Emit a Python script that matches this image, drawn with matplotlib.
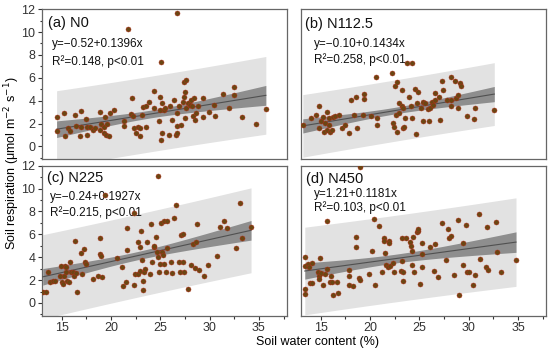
import numpy as np
import matplotlib
matplotlib.use("Agg")
import matplotlib.pyplot as plt
from matplotlib.ticker import MultipleLocator

plt.rcParams['font.family'] = ['Liberation Sans', 'DejaVu Sans']

# panel labels and fitted equations
panels = ["(a) N0", "(b) N112.5", "(c) N225", "(d) N450"]
intercepts = [-0.52, -0.10, -0.24, 1.21]
slopes = [0.1396, 0.1434, 0.1927, 0.1181]
r2_text = ["R\u00b2=0.148, p<0.01", "R\u00b2=0.258, p<0.01",
           "R\u00b2=0.215, p<0.01", "R\u00b2=0.103, p<0.01"]

# (a) N0
swc_a = [14.5, 14.56, 15.3, 15.4, 15.7, 15.9, 16.4, 16.5, 16.9, 17.0, 17.0, 17.5, 17.6, 17.6,
         17.9, 18.2, 18.4, 18.9, 18.9, 19.0, 19.3, 19.3, 19.4, 19.5, 19.6, 19.8, 19.9, 20.3,
         21.3, 21.3, 21.7, 22.0, 22.1, 22.2, 22.3, 22.5, 22.7, 22.9, 23.2, 23.0, 23.3, 23.6,
         23.6, 23.9, 24.4, 24.4, 24.9, 25.0, 25.0, 25.1, 25.1, 25.2, 25.2, 25.4, 25.5, 26.7,
         25.9, 26.0, 26.2, 26.4, 26.6, 26.7, 26.7, 26.7, 26.9, 27.1, 27.3, 27.4, 27.4, 27.5,
         27.6, 27.5, 27.6, 27.8, 28.0, 28.1, 28.2, 28.3, 28.4, 28.5, 28.6, 28.8, 29.3, 29.3,
         29.9, 30.4, 30.5, 31.4, 32.0, 32.5, 32.5, 33.3, 34.7, 35.7]
rs_a = [1.37, 2.6, 2.9, 0.87, 1.6, 1.37, 2.76, 1.8, 0.87, 3.1, 1.74, 2.4, 1.74, 0.96,
        1.74, 1.45, 1.6, 2.97, 1.45, 2.0, 1.74, 1.16, 2.6, 1.0, 2.0, 0.93, 2.9, 3.2,
        2.24, 1.8, 10.3, 2.8, 4.2, 2.67, 1.6, 1.16, 1.74, 1.6, 2.76, 0.87, 3.43, 1.66,
        3.5, 3.87, 4.85, 3.4, 2.2, 3.2, 4.36, 7.4, 0.58, 1.16, 3.78, 3.2, 3.34, 11.7,
        1.0, 3.5, 2.3, 4.07, 1.0, 1.16, 1.8, 2.9, 3.5, 1.9, 3.9, 5.67, 4.36, 4.8,
        5.8, 2.47, 3.34, 3.78, 3.63, 4.07, 3.5, 2.67, 4.27, 2.3, 2.9, 3.55, 4.27, 2.6,
        2.97, 3.63, 2.7, 4.56, 3.34, 4.5, 5.23, 2.6, 2.0, 3.3]

# (b) N112.5
swc_b = [13.2, 14.0, 14.5, 14.8, 14.8, 15.0, 15.2, 15.3, 15.4, 15.6, 15.7, 15.9, 15.9, 16.0,
         16.2, 16.3, 16.5, 16.9, 17.2, 17.5, 17.9, 18.1, 18.4, 18.6, 18.7, 19.4, 19.4, 19.3,
         20.1, 20.6, 20.7, 20.7, 22.2, 22.3, 22.4, 22.5, 22.6, 22.7, 22.7, 22.9, 22.9, 23.2,
         23.2, 23.4, 23.4, 23.5, 23.6, 23.8, 24.0, 24.2, 24.3, 24.3, 24.6, 24.7, 24.8, 24.9,
         25.2, 25.4, 25.4, 25.6, 25.9, 26.0, 26.1, 26.3, 26.4, 26.6, 26.6, 27.0, 27.1, 27.3,
         27.4, 27.8, 28.2, 28.2, 28.2, 28.6, 28.7, 28.9, 28.9, 29.1, 29.2, 29.8, 30.5, 30.6,
         32.6]
rs_b = [1.83, 2.47, 2.76, 3.55, 1.6, 2.18, 2.6, 1.3, 2.03, 1.45, 3.05, 2.47, 1.9, 1.3,
        1.45, 2.6, 2.67, 2.76, 1.6, 1.9, 1.16, 4.07, 2.76, 4.36, 1.6, 4.16, 4.56, 2.76,
        2.67, 6.05, 2.47, 1.9, 6.45, 2.03, 1.74, 5.3, 2.76, 5.67, 1.22, 2.9, 3.78, 4.94,
        3.55, 3.34, 1.6, 1.74, 2.47, 7.33, 4.36, 3.55, 7.33, 2.47, 5.0, 1.08, 3.78, 4.8,
        3.34, 2.18, 3.84, 3.78, 3.26, 2.18, 3.34, 3.92, 3.63, 4.65, 4.07, 4.36, 2.27, 5.76,
        4.94, 4.07, 4.07, 6.1, 3.55, 5.76, 4.2, 4.5, 3.34, 5.58, 5.3, 2.67, 2.38, 3.34,
        3.2]

# (c) N225
swc_c = [13.1, 13.4, 13.6, 13.8, 14.1, 14.3, 14.8, 14.9, 15.0, 15.1, 15.3, 15.4, 15.5, 15.5,
         15.6, 15.8, 15.9, 16.0, 16.2, 16.3, 16.4, 16.5, 16.6, 17.0, 17.1, 17.3, 17.4, 17.5,
         18.2, 18.7, 18.9, 18.9, 19.0, 19.1, 19.4, 20.6, 21.1, 21.2, 21.5, 21.6, 21.6, 22.3,
         22.3, 22.4, 22.7, 22.7, 22.9, 23.0, 23.1, 23.2, 23.3, 23.3, 23.4, 23.5, 23.7, 24.1,
         24.2, 24.0, 24.4, 24.4, 24.6, 24.7, 24.8, 24.8, 24.9, 25.0, 25.1, 25.2, 25.3, 25.4,
         25.4, 25.7, 25.7, 25.6, 26.1, 26.2, 26.4, 26.6, 26.9, 27.0, 27.1, 27.3, 27.3, 27.4,
         27.8, 28.1, 28.3, 28.5, 28.6, 28.7, 28.9, 29.4, 29.8, 30.8, 31.1, 31.5, 31.8, 32.7,
         33.1, 33.3, 34.2]
rs_c = [0.93, 0.93, 2.68, 1.87, 1.95, 1.95, 2.39, 3.27, 1.81, 1.66, 2.39, 3.27, 3.12, 2.74,
        1.95, 1.81, 3.56, 2.68, 2.68, 2.39, 5.45, 2.62, 0.99, 4.37, 2.54, 4.72, 3.56, 3.41,
        2.1, 2.39, 5.66, 4.29, 4.14, 2.24, 9.45, 3.9, 3.12, 1.52, 1.81, 6.53, 4.66, 7.87,
        1.6, 2.54, 5.31, 2.54, 2.83, 4.87, 6.33, 3.76, 1.95, 1.17, 2.74, 2.97, 5.31, 6.91,
        3.56, 2.54, 4.87, 5.01, 5.74, 4.43, 3.99, 11.08, 2.74, 3.41, 7.0, 4.49, 4.2, 3.41,
        7.2, 7.2, 4.78, 2.74, 3.62, 2.62, 7.4, 8.57, 3.62, 2.74, 5.95, 6.04, 3.62, 2.74,
        1.22, 3.32, 5.16, 3.03, 5.36, 6.91, 2.92, 2.39, 3.32, 4.08, 6.62, 7.2, 6.56, 4.78,
        8.75, 5.66, 6.68]

# (d) N450
swc_d = [13.4, 13.4, 13.4, 13.4, 13.7, 13.8, 13.9, 14.1, 14.1, 14.7, 14.8, 14.8, 14.9, 15.0,
         15.2, 15.4, 15.6, 15.7, 16.0, 16.1, 16.2, 16.3, 16.7, 16.8, 17.9, 17.9, 17.9, 18.3,
         18.6, 18.6, 18.9, 19.0, 19.9, 20.2, 20.4, 20.5, 20.9, 21.2, 21.4, 21.4, 21.5, 21.6,
         21.8, 21.9, 21.9, 22.0, 22.3, 22.4, 23.1, 23.2, 23.2, 23.3, 23.4, 23.7, 24.1, 24.2,
         24.3, 24.3, 24.4, 24.5, 24.8, 24.9, 24.9, 25.1, 25.3, 25.3, 25.3, 26.1, 26.5, 26.6,
         26.9, 27.3, 27.7, 27.9, 28.0, 28.2, 28.5, 28.9, 29.0, 29.4, 29.4, 29.7, 29.8, 30.0,
         30.4, 30.6, 31.1, 31.2, 31.8, 31.9, 32.0, 32.8, 32.9, 33.3, 34.8, 19.0]
rs_d = [3.99, 3.27, 1.18, 0.81, 3.41, 3.12, 1.76, 3.5, 1.76, 2.69, 2.4, 2.11, 3.9, 2.63,
        1.59, 2.54, 7.17, 2.98, 1.82, 2.4, 1.82, 0.66, 1.82, 0.9, 2.92, 1.59, 2.34, 1.47,
        5.78, 4.86, 2.17, 1.97, 2.54, 4.57, 7.31, 1.53, 6.73, 2.75, 5.72, 5.43, 4.36, 3.32,
        3.12, 5.43, 5.23, 3.21, 3.5, 2.75, 2.83, 5.64, 3.7, 1.91, 2.69, 5.72, 5.29, 5.0,
        4.57, 3.32, 5.78, 2.75, 6.16, 6.3, 6.5, 1.68, 5.23, 4.28, 3.12, 4.91, 2.83, 5.14,
        2.25, 7.02, 3.76, 6.5, 5.72, 5.81, 2.46, 7.23, 0.72, 5.23, 3.32, 6.79, 2.75, 2.69,
        1.59, 2.46, 7.75, 3.84, 3.12, 6.68, 2.92, 7.11, 4.48, 2.69, 3.76, 11.85]

swc_all = [swc_a, swc_b, swc_c, swc_d]
rs_all = [rs_a, rs_b, rs_c, rs_d]

fig = plt.figure(figsize=(5.5, 3.51), dpi=100)
boxes = [(0.076, 0.547), (0.547, 0.547), (0.076, 0.101), (0.547, 0.101)]
w, h = 0.445, 0.427

text_pos = [((0.025, 0.91), (0.04, 0.77), (0.04, 0.65)),
            ((0.015, 0.90), (0.055, 0.77), (0.055, 0.66)),
            ((0.02, 0.92), (0.033, 0.79), (0.035, 0.69)),
            ((0.02, 0.91), (0.055, 0.81), (0.055, 0.72))]

for i in range(4):
    ax = fig.add_axes([boxes[i][0], boxes[i][1], w, h])
    x = np.array(swc_all[i])
    y = np.array(rs_all[i])
    b0, b1 = intercepts[i], slopes[i]

    # confidence / prediction bands around the reported fit
    n = len(x)
    resid = y - (b0 + b1 * x)
    s = np.sqrt(np.sum(resid ** 2) / (n - 2))
    xm = x.mean()
    sxx = np.sum((x - xm) ** 2)
    xg = np.linspace(x.min(), x.max(), 100)
    yg = b0 + b1 * xg
    ci = 1.98 * s * np.sqrt(1 / n + (xg - xm) ** 2 / sxx)
    pi = 1.98 * s * np.sqrt(1 + 1 / n + (xg - xm) ** 2 / sxx)

    ax.fill_between(xg, yg - pi, yg + pi, color='#e2e2e2', lw=0, zorder=1)
    ax.fill_between(xg, yg - ci, yg + ci, color='#8e8e8e', lw=0, zorder=2)
    ax.plot(xg, yg, color='#505050', lw=0.8, zorder=3)
    ax.scatter(x, y, s=13, c='#6b4612', edgecolors='#b0301c', linewidths=0.35, zorder=4)

    ax.set_xlim(13, 37.8)
    ax.set_ylim(-1.1, 12)
    ax.xaxis.set_major_locator(MultipleLocator(5))
    ax.xaxis.set_minor_locator(MultipleLocator(2.5))
    ax.yaxis.set_major_locator(MultipleLocator(2))
    ax.yaxis.set_minor_locator(MultipleLocator(1))
    ax.tick_params(which='both', direction='out', colors='#333333', labelsize=9, width=0.8, pad=1.5)
    ax.tick_params(which='major', length=3)
    ax.tick_params(which='minor', length=1.8)
    for sp in ax.spines.values():
        sp.set_color('#666666')
        sp.set_linewidth(0.9)

    if i in (0, 1):
        ax.tick_params(axis='x', which='both', bottom=False, labelbottom=False)
    if i in (1, 3):
        ax.tick_params(axis='y', which='both', left=False, labelleft=False)

    (tx, ty), (ex, ey), (rx, ry) = text_pos[i]
    ax.text(tx, ty, panels[i], transform=ax.transAxes, fontsize=10.5, va='center', color='#111111')
    eq = "y=%s%.2f+%.4fx" % ('\u2212' if b0 < 0 else '', abs(b0), b1)
    ax.text(ex, ey, eq, transform=ax.transAxes, fontsize=8.5, va='center', color='#111111')
    ax.text(rx, ry, r2_text[i], transform=ax.transAxes, fontsize=8.5, va='center', color='#111111')

fig.text(0.022, 0.535, "Soil respiration (\u03bcmol m$^{-2}$ s$^{-1}$)", rotation=90,
         ha='center', va='center', fontsize=9)
fig.text(0.578, 0.026, "Soil water content (%)", ha='center', va='center', fontsize=9)

fig.savefig("out.png", dpi=100)
